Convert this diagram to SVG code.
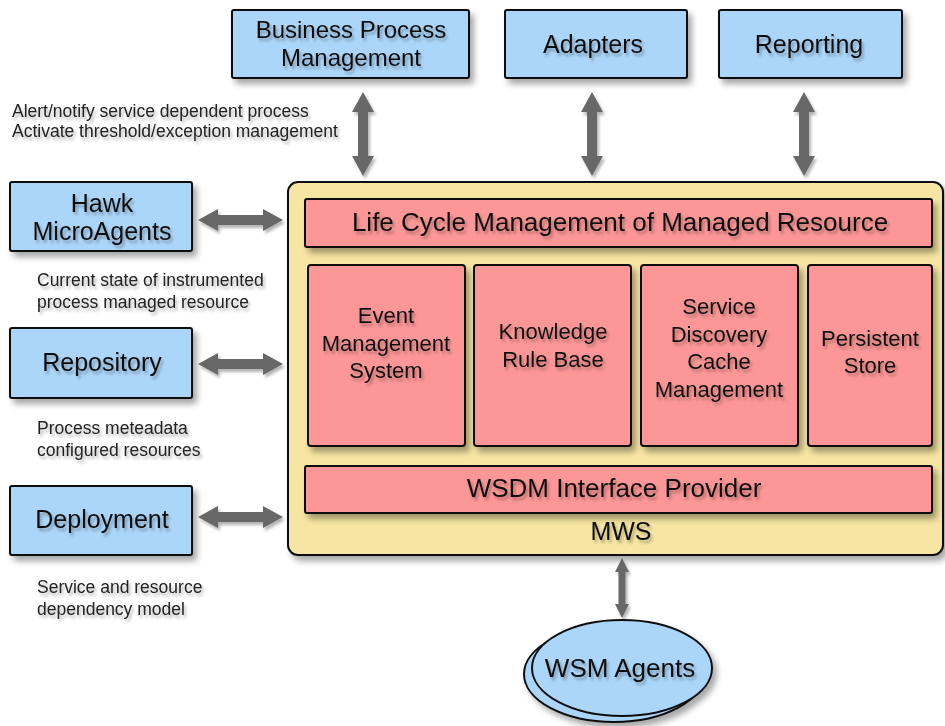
<svg xmlns="http://www.w3.org/2000/svg" width="945" height="726" viewBox="0 0 945 726">
<defs>
  <filter id="sh" x="-10%" y="-10%" width="130%" height="140%">
    <feGaussianBlur in="SourceAlpha" stdDeviation="3"/>
    <feOffset dx="4" dy="5" result="b"/>
    <feComponentTransfer><feFuncA type="linear" slope="0.35"/></feComponentTransfer>
    <feMerge><feMergeNode/><feMergeNode in="SourceGraphic"/></feMerge>
  </filter>
  <filter id="tsh" x="-10%" y="-30%" width="130%" height="170%">
    <feGaussianBlur in="SourceAlpha" stdDeviation="1.5"/>
    <feOffset dx="2" dy="3" result="b"/>
    <feComponentTransfer><feFuncA type="linear" slope="0.3"/></feComponentTransfer>
    <feMerge><feMergeNode/><feMergeNode in="SourceGraphic"/></feMerge>
  </filter>
</defs>
<style>
  .blue { fill: #acd6f9; stroke: #111; stroke-width: 2; }
  .pink { fill: #fd9797; stroke: #111; stroke-width: 2; }
  .yel { fill: #f7e6a3; stroke: #111; stroke-width: 2; }
  text { font-family: "Liberation Sans", Arial, sans-serif; fill: #111; text-anchor: middle; }
  .t24 { font-size: 24px; }
  .t25 { font-size: 25px; }
  .t26 { font-size: 26px; }
  .t22 { font-size: 22px; }
  .lbl { font-size: 17.5px; text-anchor: start; fill: #222; }
  .arr { fill: #676767; }
</style>
<rect width="945" height="726" fill="#ffffff"/>

<g id="mws" filter="url(#sh)">
  <rect class="yel" x="288" y="182" width="655" height="373" rx="10"/>
  <text class="t25" x="621" y="540" filter="url(#tsh)">MWS</text>
</g>
<g id="lifecycle" filter="url(#sh)">
  <rect class="pink" x="305" y="199" width="627" height="48" rx="2"/>
  <text class="t26" x="620" y="231" filter="url(#tsh)">Life Cycle Management of Managed Resource</text>
</g>
<g id="event" filter="url(#sh)">
  <rect class="pink" x="308" y="265" width="157" height="181" rx="3"/>
  <text class="t22" filter="url(#tsh)"><tspan x="386" y="323">Event</tspan><tspan x="386" y="351">Management</tspan><tspan x="386" y="378">System</tspan></text>
</g>
<g id="knowledge" filter="url(#sh)">
  <rect class="pink" x="474" y="265" width="157" height="181" rx="3"/>
  <text class="t22" filter="url(#tsh)"><tspan x="553" y="339">Knowledge</tspan><tspan x="553" y="367">Rule Base</tspan></text>
</g>
<g id="service" filter="url(#sh)">
  <rect class="pink" x="641" y="265" width="157" height="181" rx="3"/>
  <text class="t22" filter="url(#tsh)"><tspan x="719" y="314">Service</tspan><tspan x="719" y="342">Discovery</tspan><tspan x="719" y="369">Cache</tspan><tspan x="719" y="397">Management</tspan></text>
</g>
<g id="persistent" filter="url(#sh)">
  <rect class="pink" x="808" y="265" width="124" height="181" rx="3"/>
  <text class="t22" filter="url(#tsh)"><tspan x="870" y="346">Persistent</tspan><tspan x="870" y="373">Store</tspan></text>
</g>
<g id="wsdm" filter="url(#sh)">
  <rect class="pink" x="305" y="466" width="627" height="47" rx="2"/>
  <text class="t26" x="614" y="497" filter="url(#tsh)">WSDM Interface Provider</text>
</g>

<g id="bpm" filter="url(#sh)">
  <rect class="blue" x="232" y="10" width="237" height="68" rx="2"/>
  <text class="t24" filter="url(#tsh)"><tspan x="351" y="38">Business Process</tspan><tspan x="351" y="66">Management</tspan></text>
</g>
<g id="adapters" filter="url(#sh)">
  <rect class="blue" x="505" y="10" width="182" height="68" rx="2"/>
  <text class="t25" x="593" y="53" filter="url(#tsh)">Adapters</text>
</g>
<g id="reporting" filter="url(#sh)">
  <rect class="blue" x="719" y="10" width="183" height="68" rx="2"/>
  <text class="t25" x="809" y="53" filter="url(#tsh)">Reporting</text>
</g>
<g id="hawk" filter="url(#sh)">
  <rect class="blue" x="10" y="182" width="182" height="69" rx="2"/>
  <text class="t25" filter="url(#tsh)"><tspan x="102" y="212">Hawk</tspan><tspan x="102" y="240">MicroAgents</tspan></text>
</g>
<g id="repository" filter="url(#sh)">
  <rect class="blue" x="10" y="328" width="182" height="70" rx="2"/>
  <text class="t25" x="102" y="371" filter="url(#tsh)">Repository</text>
</g>
<g id="deployment" filter="url(#sh)">
  <rect class="blue" x="10" y="486" width="182" height="69" rx="2"/>
  <text class="t25" x="102" y="528" filter="url(#tsh)">Deployment</text>
</g>
<g id="wsmagents" filter="url(#sh)">
  <ellipse class="blue" cx="614" cy="674" rx="90" ry="48"/>
  <ellipse class="blue" cx="622" cy="668" rx="90" ry="48"/>
  <text class="t26" x="620" y="677" filter="url(#tsh)">WSM Agents</text>
</g>

<g id="labels" filter="url(#tsh)">
  <text class="lbl" x="12" y="117">Alert/notify service dependent process</text>
  <text class="lbl" x="12" y="137">Activate threshold/exception management</text>
  <text class="lbl" x="37" y="286">Current state of instrumented</text>
  <text class="lbl" x="37" y="308">process managed resource</text>
  <text class="lbl" x="37" y="434">Process meteadata</text>
  <text class="lbl" x="37" y="456">configured resources</text>
  <text class="lbl" x="37" y="593">Service and resource</text>
  <text class="lbl" x="37" y="615">dependency model</text>
</g>

<g id="connectors" filter="url(#tsh)">
  <polygon class="arr" points="363,92 374,112 368,112 368,156 374,156 363,176 352,156 358,156 358,112 352,112"/>
  <polygon class="arr" points="592,92 603,112 597,112 597,156 603,156 592,176 581,156 587,156 587,112 581,112"/>
  <polygon class="arr" points="804,92 815,112 809,112 809,156 815,156 804,176 793,156 799,156 799,112 793,112"/>
  <polygon class="arr" points="198,220 218,209 218,215 263,215 263,209 283,220 263,231 263,225 218,225 218,231"/>
  <polygon class="arr" points="198,364 218,353 218,359 263,359 263,353 283,364 263,375 263,369 218,369 218,375"/>
  <polygon class="arr" points="198,517 218,506 218,512 263,512 263,506 283,517 263,528 263,522 218,522 218,528"/>
  <polygon class="arr" points="622,558 629,572 625.5,572 625.5,604 629,604 622,618 615,604 618.5,604 618.5,572 615,572"/>
</g>
</svg>
